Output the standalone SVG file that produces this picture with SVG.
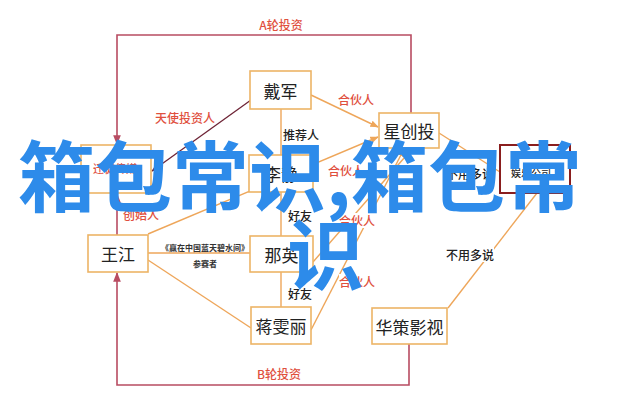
<svg xmlns="http://www.w3.org/2000/svg" width="640" height="411" viewBox="0 0 640 411">
<defs>
<style>
.box{fill:#fff;stroke:#EDB466;stroke-width:1.6}
.box2{fill:#fff;stroke:#8A1E1E;stroke-width:2}
.nt{font-family:"Noto Sans CJK SC","Noto Sans",sans-serif;font-size:17px;fill:#222;text-anchor:middle;dominant-baseline:central}
.ln{fill:none;stroke:#EEA65A;stroke-width:1.4}
.rl{fill:none;stroke:#B84C62;stroke-width:1.6}
.dl{fill:none;stroke:#6E2436;stroke-width:1.3}
.lr{font-family:"Noto Sans CJK SC","Noto Sans",sans-serif;font-size:12px;fill:#E0503E;text-anchor:middle;dominant-baseline:central;font-weight:500}
.lb{font-family:"Noto Sans CJK SC","Noto Sans",sans-serif;font-size:12px;fill:#222;text-anchor:middle;dominant-baseline:central;font-weight:500}
.ls{font-family:"Noto Sans CJK SC","Noto Sans",sans-serif;font-size:8px;fill:#333;text-anchor:middle;dominant-baseline:central;font-weight:600}
.bg{fill:#fff}
.wm{font-family:"Noto Sans CJK SC","Noto Sans",sans-serif;font-size:77px;font-weight:700;fill:#2D8BEA}
</style>
<marker id="ao" viewBox="0 0 10 10" refX="9" refY="5" markerWidth="6" markerHeight="6" orient="auto"><path d="M0,1 L10,5 L0,9 z" fill="#EEA65A"/></marker>
<marker id="ar" viewBox="0 0 10 10" refX="9" refY="5" markerWidth="6" markerHeight="6" orient="auto"><path d="M0,1 L10,5 L0,9 z" fill="#B84C62"/></marker>
<marker id="ad" viewBox="0 0 10 10" refX="9" refY="5" markerWidth="6" markerHeight="6" orient="auto"><path d="M0,1 L10,5 L0,9 z" fill="#6E2436"/></marker>
</defs>
<rect width="640" height="411" fill="#fff"/>
<g id="connectors">
<polyline class="rl" points="411,113 411,35 117,35 117,144" marker-end="url(#ar)"/>
<polyline class="rl" points="409,344 409,385 117,385 117,273" marker-end="url(#ar)"/>
<line class="rl" x1="117" y1="235" x2="117" y2="194" marker-end="url(#ar)"/>
<line class="dl" x1="251" y1="100" x2="152" y2="171" marker-end="url(#ad)"/>
<line class="ln" x1="311" y1="95" x2="378" y2="127" marker-end="url(#ao)"/>
<line class="ln" x1="148" y1="234" x2="378" y2="137" marker-end="url(#ao)"/>
<line class="ln" x1="313" y1="262" x2="412" y2="149" marker-end="url(#ao)"/>
<line class="ln" x1="311" y1="330" x2="404" y2="149" marker-end="url(#ao)"/>
<line class="ln" x1="281" y1="109" x2="281" y2="155"/>
<line class="ln" x1="281" y1="192" x2="281" y2="236"/>
<line class="ln" x1="281" y1="272" x2="281" y2="307"/>
<line class="ln" x1="148" y1="253" x2="250" y2="253"/>
<line class="ln" x1="148" y1="260" x2="251" y2="328"/>
<line class="ln" x1="439" y1="133" x2="500" y2="172"/>
<line class="ln" x1="537" y1="193" x2="448" y2="308"/>
<rect class="bg" x="258" y="17" width="46" height="15"/>
<text class="lr" x="281" y="24">A轮投资</text>
<rect class="bg" x="256" y="366" width="46" height="15"/>
<text class="lr" x="279" y="373">B轮投资</text>
<rect class="bg" x="123" y="207" width="36" height="15"/>
<text class="lr" x="141" y="214">创始人</text>
<rect class="bg" x="155" y="110" width="60" height="15"/>
<text class="lr" x="185" y="117">天使投资人</text>
<rect class="bg" x="338" y="91" width="36" height="15"/>
<text class="lr" x="356" y="99">合伙人</text>
<rect class="bg" x="328" y="163" width="36" height="15"/>
<text class="lr" x="346" y="170">合伙人</text>
<rect class="bg" x="339" y="213" width="36" height="15"/>
<text class="lr" x="357" y="220">合伙人</text>
<rect class="bg" x="339" y="274" width="36" height="15"/>
<text class="lr" x="357" y="281">合伙人</text>
<text class="lb" x="301" y="134">推荐人</text>
<text class="lb" x="300" y="215">好友</text>
<text class="lb" x="300" y="293">好友</text>
<rect class="bg" x="446" y="166" width="48" height="15"/>
<text class="lb" x="470" y="173">不用多说</text>
<rect class="bg" x="446" y="247" width="48" height="15"/>
<text class="lb" x="470" y="254">不用多说</text>
<rect class="bg" x="162" y="242" width="86" height="10"/>
<text class="ls" x="205" y="247">《赢在中国蓝天碧水间》</text>
<text class="ls" x="205" y="263">参赛者</text>
</g>
<g id="n-daijun"><rect class="box" x="250" y="71" width="61" height="38"/><text class="nt" x="280.5" y="90">戴军</text></g>
<g id="n-xingchuangtou"><rect class="box" x="379" y="113" width="60" height="35"/><text class="nt" x="409" y="130.5">星创投</text></g>
<g id="n-company"><rect class="box" x="81" y="145" width="70" height="48"/><text class="lr" x="115" y="168" style="font-size:11px">迁徙传媒</text></g>
<g id="n-lijing"><rect class="box" x="249" y="155" width="64" height="37"/><text class="nt" x="281" y="173.5">李静</text></g>
<g id="n-right"><rect class="box2" x="500" y="145" width="70" height="48"/><text class="lb" x="531" y="172" style="font-size:10px">娱乐公司</text></g>
<g id="n-wangjiang"><rect class="box" x="88" y="235" width="60" height="37"/><text class="nt" x="118" y="253.5">王江</text></g>
<g id="n-naying"><rect class="box" x="250" y="236" width="63" height="36"/><text class="nt" x="281.5" y="254">那英</text></g>
<g id="n-jiangwenli"><rect class="box" x="251" y="307" width="60" height="37"/><text class="nt" x="281" y="325.5">蒋雯丽</text></g>
<g id="n-huace"><rect class="box" x="372" y="308" width="75" height="36"/><text class="nt" x="409.5" y="326">华策影视</text></g>
<g id="watermark">
<text class="wm" x="18" y="206">箱包常识,箱包常</text>
<text class="wm" x="287" y="284">识</text>
</g>
</svg>
